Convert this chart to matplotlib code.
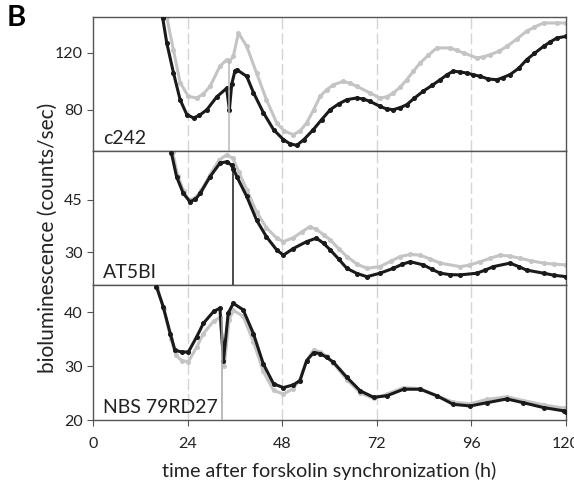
import matplotlib
matplotlib.use("Agg")
import matplotlib.pyplot as plt

plt.rcParams['font.family'] = ['Lato', 'DejaVu Sans']

# c242 panel
c242_black_t = [17.7, 18.7, 20.4, 22.1, 23.8, 25.5, 27, 28.9, 31.4, 33.9, 34.6, 35.2, 36, 36.5, 39,
                40.7, 43.2, 45.8, 48.3, 50, 51.7, 53.5, 55.9, 58, 60.2, 62.3, 64.4, 66.9, 68.5, 70.3,
                72.8, 74.5, 76.2, 78, 79.6, 81.5, 83.8, 86, 88.1, 89.8, 91.4, 93, 94.8, 96.5, 98.2,
                100.3, 102.5, 104, 105.8, 108, 110, 112, 114.3, 116, 117.7, 120]
c242_black_v = [144, 127, 106, 87, 76.5, 74.2, 76, 80, 89, 95, 80, 98, 107, 108, 103.4,
                92, 78, 66, 59, 56, 55, 59, 66, 73, 80, 84, 87, 88.2, 87.5, 85.8,
                82.3, 80.5, 80, 81.5, 83.5, 88, 93, 97, 101, 104.5, 107, 106.5, 105.7, 104.5, 103.4,
                101.5, 101, 102.5, 104.6, 109, 115, 119.5, 124.4, 127.5, 130.3, 131.4]
c242_gray_t = [18.7, 20.4, 22.1, 24.2, 26.3, 28, 29.7, 32.2, 33.9, 34.6, 35.6, 36.9, 39, 41.5,
               44, 46.6, 48.5, 50.8, 52.5, 54.2, 56, 57.6, 59.3, 61, 63.5, 65.2, 66.9, 70.3, 72.8,
               74.5, 76.2, 78, 79.6, 81.3, 83, 85, 87.2, 90.6, 92.3, 94, 97.4, 99, 100.8, 103,
               105, 107.5, 110, 112, 114.3, 117.7, 120]
c242_gray_v = [145, 122, 99, 89.3, 88.2, 91, 96.4, 110.4, 115, 114, 117.4, 133.8, 124.4, 105.7,
               87, 70.7, 65, 62.5, 65, 70.7, 80, 89.3, 94, 97.5, 99.8, 98.5, 96.4, 91.7, 88.2,
               89, 91.7, 96, 101, 107, 112.8, 118, 123.3, 123.3, 121.5, 119.8, 116.3, 117, 118.6, 121,
               124.4, 129.5, 135, 138, 140.8, 140.8, 140.8]

# AT5BI panel
at5_black_t = [19.9, 21.2, 22.9, 24.6, 26, 27.2, 29.7, 32.2, 33.9, 35.2, 35.6, 36.5, 39, 41.5,
               44, 46.6, 48.3, 50.8, 54.2, 56.7, 58.5, 60.2, 62.3, 64.4, 67, 69.5, 72.8, 76.2, 78.5,
               80.5, 83.8, 86, 88.1, 90.5, 93.1, 97.4, 99.5, 101.6, 105.8, 108, 110, 114.3, 117, 120]
at5_black_v = [58.5, 51.7, 46.9, 44.5, 45.2, 46.9, 51.7, 55.6, 56, 55, 54, 51.7, 46, 39.2,
               34.4, 30.6, 29.1, 31, 33, 34, 32.5, 30.6, 28, 25.3, 23.8, 22.9, 23.9, 25.3, 26.5,
               27.2, 26.3, 25, 23.9, 23.5, 23.4, 23.9, 24.8, 25.8, 26.8, 25.8, 24.8, 23.9, 23.3, 22.9]
at5_gray_t = [20.2, 21.5, 23, 24.4, 26, 27.5, 29.7, 32, 33.9, 35.5, 37, 39, 41.5, 44, 46.6,
              48.3, 50.8, 53, 55, 56.7, 58.5, 60.2, 62.3, 64.4, 67, 69.5, 72.8, 75.5, 77.9, 80.5,
              83, 85.5, 88.1, 93.1, 95.5, 98.2, 100.8, 103.3, 105.8, 108.4, 111, 114.3, 117, 120]
at5_gray_v = [58.8, 52, 47.5, 45, 45.6, 47.8, 52.3, 56.5, 58, 57, 53, 48, 41.5, 37, 34,
              33, 34.1, 35.8, 37.3, 36.5, 35, 33.5, 31, 28.7, 26.5, 25.3, 25.8, 27.3, 28.7, 29.3,
              29.1, 28, 26.8, 25.8, 26.2, 27.2, 28.2, 29.1, 28.8, 28.2, 27.5, 26.8, 26.5, 26.3]

# NBS 79RD27 panel
nbs_black_t = [16.1, 17.8, 19.6, 20.8, 22.5, 24.2, 26.3, 28, 30.6, 32.2, 33.1, 34.3, 35.6, 38.1, 40.7,
               43.2, 45.8, 48.3, 50.8, 52.5, 54.2, 56, 57.6, 59.3, 61, 64.4, 67.8, 71.2, 74.6, 78.8,
               83, 87.2, 91.4, 95.7, 99.9, 105, 109.2, 114.3, 119.4, 120]
nbs_black_v = [44.7, 41, 36, 32.9, 32.6, 32.6, 35.4, 37.9, 40.1, 40.7, 31, 39.8, 41.6, 40.4, 36,
               30.4, 26.7, 26, 26.5, 27.3, 31, 32.5, 32.3, 31.6, 30.7, 27.9, 25.4, 24.2, 24.5, 25.7,
               25.7, 24.5, 22.9, 22.6, 23.2, 23.9, 23.2, 22.3, 21.7, 21.5]
nbs_gray_t = [16.3, 18, 19.8, 21, 22.5, 24.2, 26.3, 28, 30.6, 32.2, 33.3, 34.5, 35.6, 38.1,
              40.7, 43.2, 45.8, 48.3, 50.8, 52.5, 54.2, 56, 57.6, 59.3, 61, 64.4, 67.8, 71.2, 74.6,
              78.8, 83, 87.2, 91.4, 95.7, 99.9, 105, 109.2, 114.3, 119.4, 120]
nbs_gray_v = [44.5, 40.5, 35, 32, 31, 30.8, 33.5, 36, 38.3, 39, 30, 38.5, 40.3, 39.2,
              34.5, 29, 25.5, 24.8, 25.8, 27.5, 31, 33, 32.6, 31.8, 30.5, 27.5, 25, 24, 24.8,
              26, 25.8, 24.5, 23.3, 23, 23.8, 24.3, 23.6, 22.8, 22.2, 22]

# single-reading artefacts (time, value before the drop, lowest value)
c242_spike = (34.4, 115, 50)
at5_spike = (35.4, 55, 18)
nbs_spike = (32.7, 39, 19)

panels = [
    ("c242", c242_gray_t, c242_gray_v, c242_black_t, c242_black_v, c242_spike, "#b8b8b8",
     (51, 145), [80, 120]),
    ("AT5BI", at5_gray_t, at5_gray_v, at5_black_t, at5_black_v, at5_spike, "#1a1a1a",
     (20.5, 59.1), [30, 45]),
    ("NBS 79RD27", nbs_gray_t, nbs_gray_v, nbs_black_t, nbs_black_v, nbs_spike, "#a8a8a8",
     (20, 45), [20, 30, 40]),
]

fig = plt.figure(figsize=(5.74, 4.80), dpi=100)
left, right = 93 / 574, 566 / 574
edges = [17, 151, 285, 420]

spine_col = "#555555"
for i, (name, gt, gv, bt, bv, spk, spk_col, ylim, yt) in enumerate(panels):
    top = 1 - edges[i] / 480
    bot = 1 - edges[i + 1] / 480
    ax = fig.add_axes([left, bot, right - left, top - bot])
    for xv in [24, 48, 72, 96]:
        ax.axvline(xv, color="#d4d4d4", lw=1, linestyle=(0, (8, 3)), zorder=0)
    ax.plot(gt, gv, "-o", color="#c4c4c4", ms=2.6, lw=2.2, zorder=2)
    ax.plot(bt, bv, "-o", color="#1a1a1a", ms=2.6, lw=2.2, zorder=3)
    ax.plot([spk[0], spk[0]], [spk[1], spk[2]], color=spk_col, lw=1.1, zorder=4)
    ax.set_xlim(0, 120)
    ax.set_ylim(*ylim)
    ax.set_yticks(yt)
    ax.set_xticks([0, 24, 48, 72, 96, 120])
    ax.tick_params(axis="y", direction="out", length=4, color=spine_col, labelsize=11.5,
                   labelcolor="#222222")
    if i < 2:
        ax.tick_params(axis="x", length=0, labelbottom=False)
    else:
        ax.tick_params(axis="x", direction="out", length=4, color=spine_col, labelsize=11.5,
                       labelcolor="#222222", pad=8)
    for s in ax.spines.values():
        s.set_color(spine_col)
        s.set_linewidth(1)
    ax.text(0.022, 0.03, name, transform=ax.transAxes, fontsize=14, color="#222222",
            ha="left", va="bottom")
    if i == 2:
        ax.set_xlabel("time after forskolin synchronization (h)", fontsize=14.2,
                      color="#222222", labelpad=8)

fig.text(0.083, (1 - 238 / 480), "bioluminescence (counts/sec)", rotation=90,
         fontsize=15, color="#222222", ha="center", va="center")
fig.text(0.012, 0.99, "B", fontsize=21, fontweight="bold", ha="left", va="top")

fig.savefig("out.png", dpi=100)
